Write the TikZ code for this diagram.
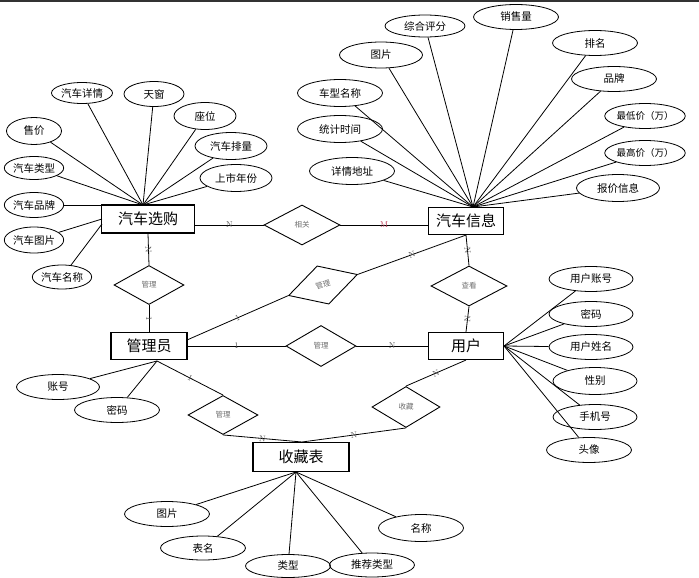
\documentclass[tikz,border=0pt]{standalone}
\usepackage{fontspec}
\newfontfamily\cjk{Noto Sans CJK SC}
\usetikzlibrary{shapes.geometric}
\definecolor{mred}{RGB}{190,60,85}
\definecolor{lblgray}{RGB}{110,110,110}
\definecolor{edgegray}{RGB}{85,85,85}
\begin{document}
\begin{tikzpicture}[x=1pt,y=-1pt,
  ent/.style={draw, line width=1.1pt, inner sep=0pt, font=\cjk\fontsize{15}{15}\selectfont},
  attr/.style={draw, ellipse, line width=0.8pt, inner sep=0pt, minimum width=84pt, minimum height=25pt, font=\cjk\fontsize{10.5}{10.5}\selectfont},
  rel/.style={draw, diamond, line width=0.9pt, inner sep=0pt, font=\cjk\fontsize{7.5}{7.5}\selectfont, text=lblgray},
  elab/.style={font=\fontsize{8.5}{8.5}\selectfont, text=edgegray, inner sep=0.5pt, sloped},
  conn/.style={line width=0.8pt}]
\useasboundingbox (0,0) rectangle (699,578);
\draw[line width=2pt, black!80] (0,1) -- (699,1);

% entities
\node[ent, minimum width=93pt, minimum height=28pt] (xg) at (148,219) {汽车选购};
\node[ent, minimum width=75pt, minimum height=27pt] (xx) at (466,221) {汽车信息};
\node[ent, minimum width=76pt, minimum height=27pt] (gly) at (149,346) {管理员};
\node[ent, minimum width=75pt, minimum height=27pt] (yh) at (466,346) {用户};
\node[ent, minimum width=96pt, minimum height=29pt] (sc) at (301,457) {收藏表};

% relationships
\node[rel, minimum width=76pt, minimum height=40pt] (r1) at (302,225) {相关};
\node[rel, minimum width=70pt, minimum height=39pt] (r2) at (149,285) {管理};
\node[rel, minimum width=72pt, minimum height=40pt, rotate=17] (r3) at (323,285) {管理};
\node[rel, minimum width=76pt, minimum height=40pt] (r4) at (469,286) {查看};
\node[rel, minimum width=70pt, minimum height=41pt] (r5) at (321,346) {管理};
\node[rel, minimum width=70pt, minimum height=39pt] (r6) at (223,415) {管理};
\node[rel, minimum width=68pt, minimum height=41pt] (r7) at (406,407) {收藏};

% convergence points
\coordinate (xgT) at (143,205);
\coordinate (xgL1) at (102,219);
\coordinate (xgL2) at (102,224);
\coordinate (xxT) at (473,207);
\coordinate (glB) at (157,361);
\coordinate (glR) at (187,340);
\coordinate (scT) at (302,442);
\coordinate (scB) at (296,472);

% 汽车选购 attributes
\node[attr, minimum width=61pt, minimum height=21pt] (a1) at (82,93) {汽车详情};
\node[attr, minimum width=60pt, minimum height=25pt] (a2) at (154,94) {天窗};
\node[attr, minimum width=62pt, minimum height=27pt] (a3) at (205,116) {座位};
\node[attr, minimum width=72pt, minimum height=27pt] (a4) at (231,146) {汽车排量};
\node[attr, minimum width=72pt, minimum height=27pt] (a5) at (236,178) {上市年份};
\node[attr, minimum width=55pt, minimum height=27pt] (a6) at (34,131) {售价};
\node[attr, minimum width=56pt, minimum height=23pt] (a7) at (34,168) {汽车类型};
\node[attr, minimum width=56pt, minimum height=25pt] (a8) at (34,205) {汽车品牌};
\node[attr, minimum width=56pt, minimum height=26pt] (a9) at (34,240) {汽车图片};
\node[attr, minimum width=58pt, minimum height=24pt] (a10) at (62,277) {汽车名称};
\foreach \n in {a1,a2,a3,a4,a5,a6,a7,a8} \draw[conn] (\n) -- (xgT);
\draw[conn] (a9) -- (xgL1);
\draw[conn] (a10) -- (xgL2);

% 汽车信息 attributes
\node[attr, minimum width=80pt, minimum height=22pt] (b1) at (425,26) {综合评分};
\node[attr, minimum width=85pt, minimum height=25pt] (b2) at (516,17) {销售量};
\node[attr, minimum width=83pt, minimum height=26pt] (b3) at (381,55) {图片};
\node[attr, minimum width=85pt, minimum height=25pt] (b4) at (595,43) {排名};
\node[attr, minimum width=85pt, minimum height=25pt] (b5) at (614,79) {品牌};
\node[attr, minimum width=85pt, minimum height=27pt] (b6) at (340,93) {车型名称};
\node[attr, minimum width=75pt, minimum height=25pt, font=\cjk\fontsize{9.5}{9.5}\selectfont] (b7) at (645,116) {最低价（万）};
\node[attr, minimum width=85pt, minimum height=27pt] (b8) at (340,129) {统计时间};
\node[attr, minimum width=75pt, minimum height=25pt, font=\cjk\fontsize{9.5}{9.5}\selectfont] (b9) at (645,153) {最高价（万）};
\node[attr, minimum width=85pt, minimum height=27pt] (b10) at (352,171) {详情地址};
\node[attr, minimum width=83pt, minimum height=27pt] (b11) at (618,188) {报价信息};
\foreach \n in {b1,b2,b3,b4,b5,b6,b7,b8,b9,b10,b11} \draw[conn] (\n) -- (xxT);

% 用户 attributes
\node[attr] (c1) at (591,279) {用户账号};
\node[attr] (c2) at (591,314) {密码};
\node[attr] (c3) at (591,347) {用户姓名};
\node[attr, minimum height=27pt] (c4) at (595,381) {性别};
\node[attr] (c5) at (595,417) {手机号};
\node[attr, minimum width=85pt] (c6) at (589,450) {头像};
\foreach \n in {c1,c2,c3,c4,c5,c6} \draw[conn] (\n) -- (yh.east);

% 管理员 attributes
\node[attr, minimum width=83pt] (d1) at (58,387) {账号};
\node[attr, minimum width=85pt] (d2) at (117,410) {密码};
\draw[conn] (d1) -- (glB);
\draw[conn] (d2) -- (glB);

% 收藏表 attributes
\node[attr, minimum width=85pt] (e1) at (167,514) {图片};
\node[attr, minimum width=85pt, minimum height=24pt] (e2) at (203,548) {表名};
\node[attr, minimum width=85pt, minimum height=23pt] (e3) at (288,566) {类型};
\node[attr, minimum width=85pt, minimum height=24pt] (e4) at (372,565) {推荐类型};
\node[attr, minimum width=85pt, minimum height=27pt] (e5) at (421,528) {名称};
\foreach \n in {e1,e2,e3,e4,e5} \draw[conn] (\n) -- (scB);

% relationship connectors
\draw[conn] (r1.west -| xg.east) -- node[elab]{N} (r1.west);
\draw[conn] (r1.east) -- node[elab, text=mred]{M} (r1.east -| xx.west);
\draw[conn] (xg.south) -- node[elab]{N} (r2.north);
\draw[conn] (r2.south) -- node[elab]{1} (gly.north);
\draw[conn] (glR) -- node[elab]{1} (r3.west);
\draw[conn] (r3.east) -- node[elab]{N} (xx.south);
\draw[conn] (xx.south) -- node[elab]{N} (r4.north);
\draw[conn] (r4.south) -- node[elab]{N} (yh.north);
\draw[conn] (gly.east) -- node[elab]{1} (r5.west);
\draw[conn] (r5.east) -- node[elab]{N} (yh.west);
\draw[conn] (glB) -- node[elab]{1} (r6.north);
\draw[conn] (r6.south) -- node[elab]{N} (scT);
\draw[conn] (yh.south) -- node[elab]{N} (r7.north);
\draw[conn] (r7.south) -- node[elab]{N} (scT);
\end{tikzpicture}
\end{document}
